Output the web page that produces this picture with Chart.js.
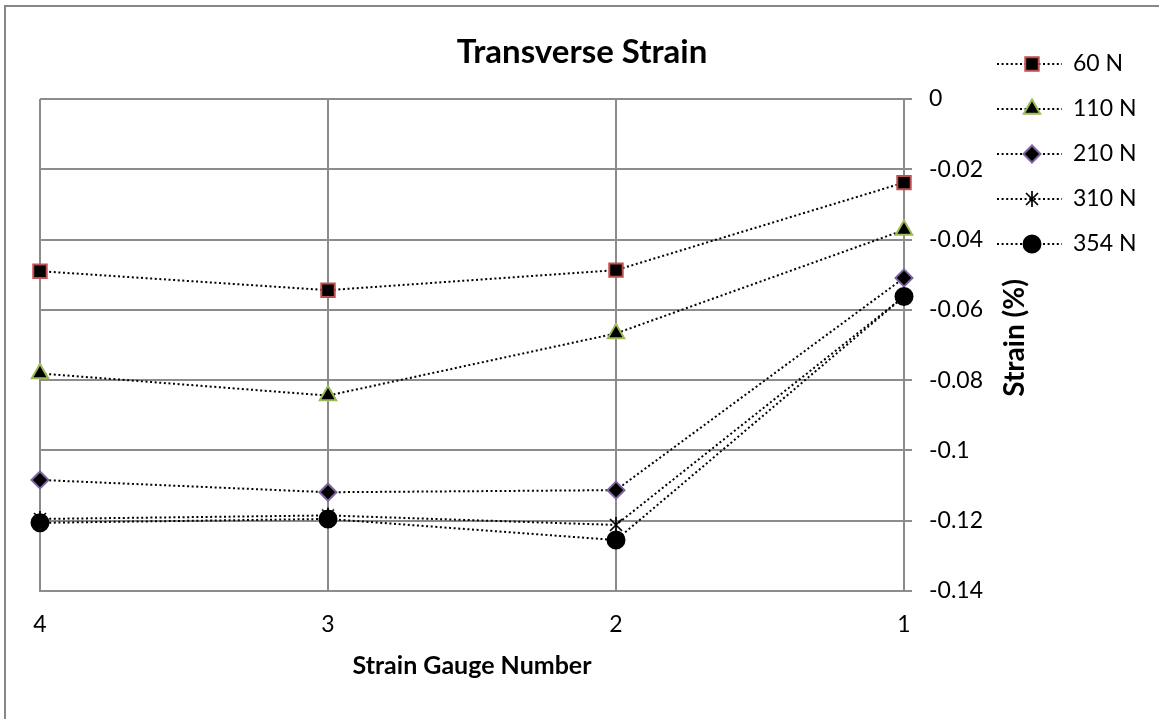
<!DOCTYPE html>
<html>
<head>
<meta charset="utf-8">
<script src="https://cdn.jsdelivr.net/npm/chart.js@4/dist/chart.umd.min.js"></script>
<style>
  html, body { margin: 0; padding: 0; background: #fff; }
  #wrap { width: 1159px; height: 719px; }
</style>
</head>
<body>
<div id="wrap"><canvas id="c" width="1159" height="719"></canvas></div>
<script>
// ---- data ----
const categories = ['4', '3', '2', '1'];
const seriesNames = ['60 N', '110 N', '210 N', '310 N', '354 N'];
const series60  = [-0.0490, -0.0544, -0.0487, -0.0238];
const series110 = [-0.0781, -0.0844, -0.0667, -0.0373];
const series210 = [-0.1084, -0.1119, -0.1113, -0.0509];
const series310 = [-0.1195, -0.1185, -0.1212, -0.0562];
const series354 = [-0.1206, -0.1195, -0.1255, -0.0562];
const yTickValues = [0, -0.02, -0.04, -0.06, -0.08, -0.1, -0.12, -0.14];
const yTickLabels = ['0', '-0.02', '-0.04', '-0.06', '-0.08', '-0.1', '-0.12', '-0.14'];
const chartTitle = 'Transverse Strain';
const xTitle = 'Strain Gauge Number';
const yTitle = 'Strain (%)';

// ---- styles ----
const GRID = '#8c8c8c';
const FONT = 'Lato, "Open Sans", sans-serif';
const DASH = [2, 2.6];

function starImage() {
  const c = document.createElement('canvas');
  c.width = 18; c.height = 18;
  const g = c.getContext('2d');
  g.strokeStyle = '#000';
  g.lineWidth = 1.7;
  g.beginPath();
  g.moveTo(3, 3); g.lineTo(15, 15);
  g.moveTo(15, 3); g.lineTo(3, 15);
  g.moveTo(9, 1); g.lineTo(9, 17);
  g.stroke();
  return c;
}
const starImg = starImage();

const markerStyles = [
  { pointStyle: 'rect',     radius: 9.5, border: '#C0504D' },
  { pointStyle: 'triangle', radius: 9.5, border: '#9BBB59' },
  { pointStyle: 'rectRot',  radius: 8.5, border: '#8064A2' },
  { pointStyle: starImg,    radius: 8,   border: '#000000' },
  { pointStyle: 'circle',   radius: 8.5, border: '#000000' }
];
const seriesData = [series60, series110, series210, series310, series354];

const datasets = seriesData.map((d, i) => ({
  label: seriesNames[i],
  data: d,
  order: seriesData.length - 1 - i,
  borderColor: '#000',
  borderWidth: 2,
  borderDash: DASH,
  borderCapStyle: 'butt',
  fill: false,
  tension: 0,
  pointStyle: markerStyles[i].pointStyle,
  pointRadius: markerStyles[i].radius,
  pointHoverRadius: markerStyles[i].radius,
  pointBackgroundColor: '#000',
  pointBorderColor: markerStyles[i].border,
  pointBorderWidth: 2
}));

const decorPlugin = {
  id: 'decor',
  beforeDraw(chart) {
    const ctx = chart.ctx;
    ctx.save();
    ctx.fillStyle = '#fff';
    ctx.fillRect(0, 0, chart.width, chart.height);
    ctx.strokeStyle = '#878787';
    ctx.lineWidth = 2;
    ctx.beginPath();
    ctx.moveTo(5, 719);
    ctx.lineTo(5, 6);
    ctx.lineTo(1159, 6);
    ctx.stroke();
    ctx.restore();
  },
  afterDraw(chart) {
    const ctx = chart.ctx;
    ctx.save();
    // chart title
    ctx.fillStyle = '#000';
    ctx.font = 'bold 33px ' + FONT;
    ctx.textAlign = 'center';
    ctx.textBaseline = 'alphabetic';
    ctx.fillText(chartTitle, 582, 63);
    // y axis title (reads bottom to top)
    ctx.save();
    ctx.translate(1015, 338);
    ctx.rotate(-Math.PI / 2);
    ctx.font = 'bold 28px ' + FONT;
    ctx.textAlign = 'center';
    ctx.textBaseline = 'middle';
    ctx.fillText(yTitle, 0, 0);
    ctx.restore();
    // legend
    const rowY = [64, 109, 154, 199, 244];
    chart.data.datasets.forEach((ds, i) => {
      const y = rowY[i];
      ctx.save();
      ctx.strokeStyle = '#000';
      ctx.lineWidth = 2;
      ctx.setLineDash(DASH);
      ctx.beginPath();
      ctx.moveTo(997, y);
      ctx.lineTo(1062, y);
      ctx.stroke();
      ctx.setLineDash([]);
      ctx.fillStyle = '#000';
      ctx.strokeStyle = ds.pointBorderColor;
      ctx.lineWidth = ds.pointBorderWidth;
      const opts = { pointStyle: ds.pointStyle, radius: ds.pointRadius, rotation: 0, borderWidth: ds.pointBorderWidth };
      if (Chart.helpers && Chart.helpers.drawPoint) {
        Chart.helpers.drawPoint(ctx, opts, 1032, y);
      } else {
        ctx.beginPath();
        ctx.arc(1032, y, ds.pointRadius, 0, Math.PI * 2);
        ctx.fill(); ctx.stroke();
      }
      ctx.restore();
      ctx.fillStyle = '#000';
      ctx.font = '23px ' + FONT;
      ctx.textAlign = 'left';
      ctx.textBaseline = 'middle';
      ctx.fillText(ds.label, 1073, y);
    });
    ctx.restore();
  }
};

new Chart(document.getElementById('c'), {
  type: 'line',
  data: { labels: categories, datasets },
  options: {
    responsive: false,
    animation: false,
    devicePixelRatio: 1,
    layout: { padding: { left: 40, top: 99, right: 0, bottom: 0 } },
    plugins: {
      legend: { display: false },
      title: { display: false },
      tooltip: { enabled: false }
    },
    scales: {
      x: {
        type: 'category',
        offset: false,
        grid: { color: GRID, lineWidth: 2, drawTicks: false },
        border: { display: true, color: GRID, width: 2 },
        ticks: { color: '#000', padding: 20, font: { family: FONT, size: 23 }, maxRotation: 0 },
        title: {
          display: true, text: xTitle, color: '#000',
          font: { family: FONT, size: 25, weight: 'bold' },
          padding: { top: 0, bottom: 38 }
        },
        afterFit(scale) { scale.height = 128; }
      },
      y: {
        position: 'right',
        min: -0.14,
        max: 0,
        grid: { color: GRID, lineWidth: 2, drawTicks: true, tickLength: 8 },
        border: { display: true, color: GRID, width: 2 },
        ticks: {
          stepSize: 0.02,
          color: '#000',
          padding: 17,
          font: { family: FONT, size: 23 },
          callback(value) {
            const k = yTickValues.findIndex(t => Math.abs(t - value) < 1e-6);
            return k >= 0 ? yTickLabels[k] : '';
          }
        },
        afterFit(scale) { scale.width = 255; }
      }
    }
  },
  plugins: [decorPlugin]
});
</script>
</body>
</html>
